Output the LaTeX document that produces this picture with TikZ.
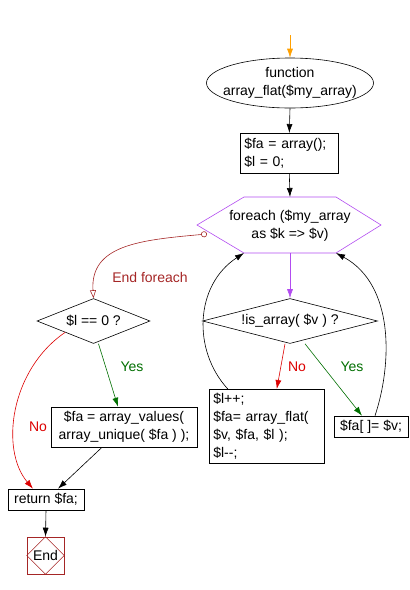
\documentclass[tikz,border=0pt]{standalone}
\usepackage{fontspec}
\setmainfont{Liberation Sans}
\usetikzlibrary{arrows.meta,shapes.geometric}
\definecolor{startc}{RGB}{255,160,0}
\definecolor{loopc}{RGB}{178,76,240}
\definecolor{noc}{RGB}{220,0,0}
\definecolor{yesc}{RGB}{0,110,0}
\definecolor{endc}{RGB}{165,38,38}
\tikzset{
  txt/.style={font=\fontsize{14}{18}\selectfont},
  box/.style={txt,draw,rectangle,inner sep=4pt},
  cond/.style={draw,diamond,inner sep=0pt},
  go/.style={-{Latex[length=9pt,width=6pt]}},
}
\begin{document}
\begin{tikzpicture}[x=1pt,y=-1pt,line width=0.6pt]
    \useasboundingbox (0,0) rectangle (410,590);
    \coordinate (s) at (290,35);
    \node[ellipse,draw,minimum width=167pt,minimum height=50pt] (fn) at (290,83) {};
    \node[txt,align=center] (fnt) at (fn) {function\\array\_flat(\$my\_array)};
    \node[box,anchor=north west,minimum height=40pt,text width=90pt,align=left] (init) at (240,133) {\$fa = array();\\\$l = 0;};

    \coordinate (ht) at (290,197);
    \coordinate (hb) at (290,253);
    \coordinate (hw) at (197,225);
    \coordinate (he) at (381,225);
    \coordinate (hnw) at (244,197);
    \coordinate (hne) at (336,197);
    \coordinate (hsw) at (244,253);
    \coordinate (hse) at (336,253);
    \coordinate (hl) at (207,234);
    \draw[loopc] (hw) -- (hnw) -- (hne) -- (he) -- (hse) -- (hsw) -- cycle;
    \node[txt,align=center] (fe) at (290,226) {foreach (\$my\_array\\as \$k => \$v)};

    \node[cond,minimum width=113pt,minimum height=45pt] (d1) at (93.5,321) {};
    \node[txt] (d1t) at (d1) {\$l == 0 ?};
    \node[cond,minimum width=175pt,minimum height=45pt] (d2) at (290,321) {};
    \node[txt] (d2t) at (d2) {!is\_array( \$v ) ?};

    \node[box,minimum width=146pt,minimum height=40pt,align=center] (vals) at (124,427) {\$fa = array\_values(\\array\_unique( \$fa ) );};
    \node[box,anchor=north west,minimum height=74pt,text width=107pt,align=left] (rec) at (209,389) {\$l++;\\\$fa= array\_flat(\\\$v, \$fa, \$l );\\\$l-{}-;};
    \node[box,minimum width=74pt,minimum height=21pt,inner sep=2pt] (push) at (371,426.5) {\$fa[ ]= \$v;};
    \node[box,minimum width=76pt,minimum height=21pt,inner sep=2pt] (ret) at (46,499.5) {return \$fa;};
    \node[txt,draw=endc,minimum size=37pt,inner sep=0pt] (stop) at (45.5,555.5) {End};
    \draw[endc] (stop.north) -- (stop.east) -- (stop.south) -- (stop.west) -- cycle;

    \draw[go,startc] (s) -- (fn.north);
    \draw[go] (fn.south) -- (init.north);
    \draw[go] (init.south) -- (ht);
    \draw[go,loopc] (hb) -- (d2.north);
    \draw[endc,{Circle[open,length=6pt]}-{Triangle[open,length=8pt,width=6pt]}] (hl) .. controls (140,240) and (90,245) .. (d1.north);
    \node[txt,endc] (lend) at (150,277) {End foreach};
    \draw[go,yesc] ([xshift=5pt]d1.south) -- ([xshift=-6pt]vals.north);
    \node[txt,yesc] (ly1) at (132,367) {Yes};
    \draw[go,noc] (d1.south west) .. controls (10,370) and (0,450) .. ([xshift=-13pt]ret.north);
    \node[txt,noc] (ln1) at (38,427) {No};
    \draw[go] ([xshift=-22pt]vals.south) -- ([xshift=12pt]ret.north);
    \draw[go] (ret.south) -- (stop.north);
    \draw[go,noc] ([xshift=-5pt]d2.south) -- ([xshift=10pt]rec.north);
    \node[txt,noc] (ln2) at (297,367) {No};
    \draw[go,yesc] ([xshift=15pt]d2.south) -- ([xshift=-9pt]push.north);
    \node[txt,yesc] (ly2) at (352,367) {Yes};
    \draw[go] ([xshift=-39pt]rec.north) .. controls (192,350) and (195,285) .. (hsw);
    \draw[go] ([xshift=4pt]push.north) .. controls (392,365) and (395,285) .. (hse);
\end{tikzpicture}
\end{document}
